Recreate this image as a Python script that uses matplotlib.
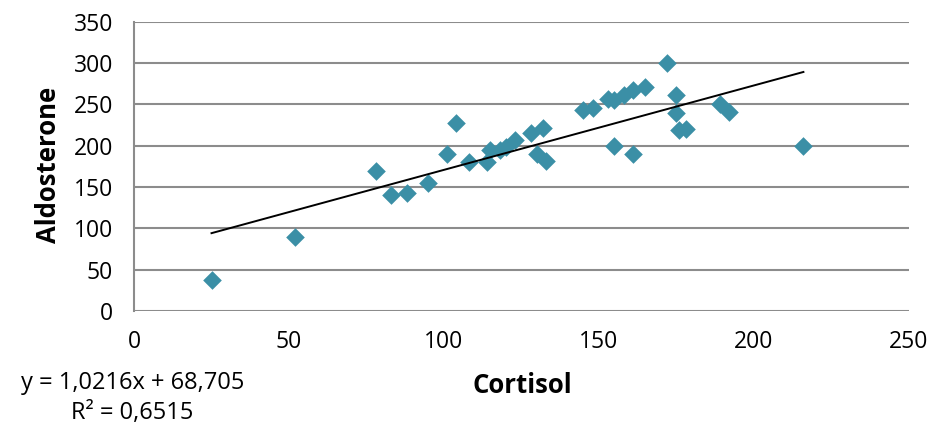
import matplotlib
matplotlib.use("Agg")
import matplotlib.pyplot as plt
import numpy as np

cortisol = [25, 52, 78, 83, 88, 95, 101, 104, 108, 114, 115, 118, 120, 123, 128, 132,
            130, 133, 145, 148, 153, 155, 158, 161, 165, 155, 161, 172, 175, 175,
            176, 178, 189, 192, 216]
aldosterone = [38, 90, 170, 140, 143, 155, 190, 227, 180, 180, 195, 195, 198, 207, 215, 221,
               190, 181, 243, 246, 257, 255, 262, 268, 271, 200, 190, 300, 261, 240,
               219, 220, 251, 241, 200]
slope = 1.0216
intercept = 68.705
r2 = 0.6515
x_ticks = [0, 50, 100, 150, 200, 250]
y_ticks = [0, 50, 100, 150, 200, 250, 300, 350]

plt.rcParams['font.family'] = ['Open Sans', 'DejaVu Sans']

fig = plt.figure(figsize=(9.34, 4.29), dpi=100)
ax = fig.add_axes([0.1435, 0.275, 0.8295, 0.674])

for yt in y_ticks:
    ax.axhline(yt, color='#8c8c8c', lw=1.5, zorder=0)

ax.scatter(cortisol, aldosterone, marker='D', s=90, color='#3B8FA6', zorder=3, linewidths=0)

xs = np.array([min(cortisol), max(cortisol)])
ax.plot(xs, slope * xs + intercept, color='black', lw=1.4, zorder=4)

ax.set_xlim(0, 250)
ax.set_ylim(0, 350)
ax.set_xticks(x_ticks)
ax.set_yticks(y_ticks)
ax.set_xticklabels([str(v) for v in x_ticks])
ax.set_yticklabels([str(v) for v in y_ticks])
ax.tick_params(length=0, labelsize=16.5, pad=15)
ax.tick_params(axis='x', pad=14)
for s in ['top', 'right', 'bottom']:
    ax.spines[s].set_visible(False)
ax.spines['left'].set_color('#8c8c8c')
ax.spines['left'].set_linewidth(1.5)

fig.text(0.052, 0.615, 'Aldosterone', rotation=90, ha='center', va='center',
         fontsize=18.5, fontweight='bold')
fig.text(0.559, 0.102, 'Cortisol', ha='center', va='center', fontsize=18.5, fontweight='bold')

eq = 'y = ' + f'{slope:.4f}'.replace('.', ',') + 'x + ' + f'{intercept:.3f}'.replace('.', ',')
fig.text(0.142, 0.107, eq, ha='center', va='center', fontsize=17)
fig.text(0.142, 0.037, 'R² = ' + f'{r2:.4f}'.replace('.', ','), ha='center', va='center', fontsize=17)

fig.savefig('out.png', dpi=100)
